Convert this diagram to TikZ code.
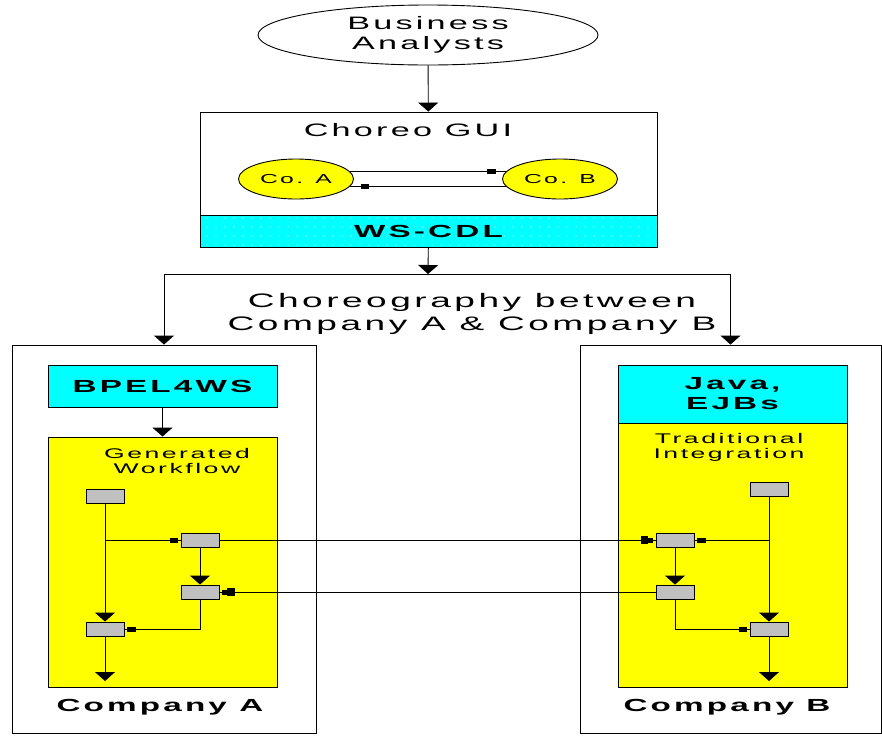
\documentclass[tikz,border=0pt]{standalone}
\usepackage{fontspec}
\setmainfont{Liberation Sans}[FakeStretch=1.9, LetterSpace=18]
\usetikzlibrary{shapes.geometric, arrows.meta, patterns.meta, decorations.markings}
\definecolor{aqua}{RGB}{0,255,255}
\definecolor{lemon}{RGB}{255,255,0}
\definecolor{silver}{RGB}{192,192,192}
\begin{document}
\begin{tikzpicture}[x=1pt, y=-1pt, line width=0.9pt,
                    every node/.style = {align=center, inner sep=0pt},
                    big/.style = {font=\fontsize{18}{20}\selectfont},
                    small/.style = {font=\fontsize{14}{15}\selectfont},
                    heavy/.style = {font=\fontsize{17.5}{20}\selectfont\bfseries},
                    oval/.style = {ellipse, draw, fill=lemon},
                    box/.style = {rectangle, draw},
                    act/.style = {rectangle, draw, fill=silver,
                        minimum width=38pt, minimum height=14pt},
                    arr/.style = {-{Triangle[width=20pt,length=9pt]}},
                    sqtip/.style = {postaction={decorate, decoration={markings,
                        mark=at position -#1 with {\arrow{Square[length=8pt,width=5pt]}}}}},
                    sqtip/.default = 3pt,
                    bigtip/.style = {postaction={decorate, decoration={markings,
                        mark=at position -3pt with {\arrow{Square[length=6pt,width=5pt]}},
                        mark=at position -8pt with {\arrow{Square[length=7pt,width=8pt]}}}}}]

    \useasboundingbox (0,0) rectangle (882,740);

    \node[oval, fill=none, minimum width=340pt, minimum height=60pt, big]
        (analysts) at (428,35) {Business\\Analysts};

    \node[box, minimum width=457pt, minimum height=103pt] (gui) at (428.5,163.5) {};
    \node[big] (guilbl) at (408,130) {Choreo GUI};
    \node[oval, minimum width=115pt, minimum height=40pt,
          font=\fontsize{13}{14}\selectfont] (coA) at (296,179) {Co. A};
    \node[oval, minimum width=115pt, minimum height=40pt,
          font=\fontsize{13}{14}\selectfont] (coB) at (560,179) {Co. B};
    \node[box, minimum width=457pt, minimum height=32pt, heavy,
          preaction={fill=aqua}, pattern={Dots[distance=9pt,radius=0.6pt]},
          pattern color=white] (cdl) at (428.5,231) {WS-CDL};

    \draw[line width=0.6pt, sqtip=11pt] (coA.8) -- (coB.172);
    \draw[line width=0.6pt, sqtip=11pt] (coB.-172) -- (coA.-8);
    \draw[arr] (analysts) -- (gui);

    \coordinate (split) at (428,274);
    \node[font=\fontsize{19.5}{23}\selectfont] (choreo) at (472,314)
        {Choreography between\\Company A \& Company B};

    \node[box, minimum width=304pt, minimum height=388pt] (compA) at (164,539) {};
    \node[box, minimum width=301pt, minimum height=388pt] (compB) at (730.5,539) {};
    \draw[arr] (cdl) -- (split);
    \draw[arr] (split) -| (compA.north);
    \draw[arr] (split) -| (compB.north);

    \node[box, fill=aqua, minimum width=229pt, minimum height=42pt, heavy]
        (bpel) at (162.5,386) {BPEL4WS};
    \node[box, fill=lemon, minimum width=229pt, minimum height=250pt] (wfA) at (162.5,562) {};
    \node[small] (genlbl) at (177,461) {Generated\\Workflow};
    \node[heavy] (compAlbl) at (160,707) {Company A};
    \draw[arr] (bpel) -- (wfA);

    \node[box, fill=aqua, minimum width=229pt, minimum height=58pt, heavy]
        (java) at (732.5,394) {Java,\\EJBs};
    \node[box, fill=lemon, minimum width=229pt, minimum height=264pt] (intB) at (732.5,555) {};
    \node[small] (tradlbl) at (729,447) {Traditional\\Integration};
    \node[heavy] (compBlbl) at (727,707) {Company B};

    \node[act] (a1) at (105,496) {};
    \node[act] (a2) at (200,540) {};
    \node[act] (a3) at (200,592) {};
    \node[act] (a4) at (105,629) {};
    \coordinate (endA) at (105,681);
    \draw[arr] (a1) -- (a4);
    \draw[sqtip] (a1 |- a2) -- (a2.west);
    \draw[arr] (a2) -- (a3);
    \draw[sqtip] (a3.south) |- (a4.east);
    \draw[arr] (a4) -- (endA);

    \node[act] (b1) at (769,489) {};
    \node[act] (b2) at (675,540) {};
    \node[act] (b3) at (675,592) {};
    \node[act] (b4) at (769,629) {};
    \coordinate (endB) at (769,681);
    \draw[arr] (b1) -- (b4);
    \draw[sqtip] (b1 |- b2) -- (b2.east);
    \draw[arr] (b2) -- (b3);
    \draw[sqtip] (b3.south) |- (b4.west);
    \draw[arr] (b4) -- (endB);

    \draw[bigtip] (a2.east) -- (b2.west);
    \draw[bigtip] (b3.west) -- (a3.east);

\end{tikzpicture}
\end{document}
